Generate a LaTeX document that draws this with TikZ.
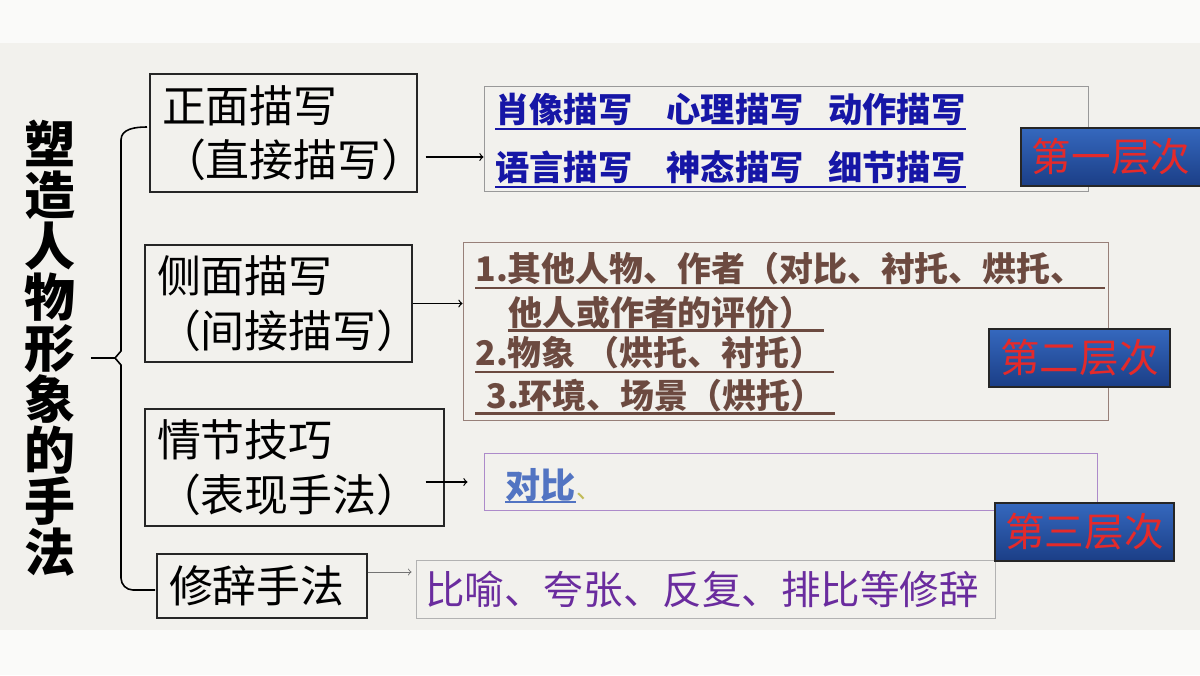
\documentclass[tikz,border=0pt]{standalone}
\usepackage{fontspec}
\newfontfamily\hei{Noto Sans CJK SC}
\definecolor{topband}{HTML}{FAFAF9}
\definecolor{slidebg}{HTML}{F2F1ED}
\definecolor{bluetxt}{HTML}{1616A6}
\definecolor{browntxt}{HTML}{6C4A40}
\definecolor{purpletxt}{HTML}{6A2C9E}
\definecolor{duibi}{HTML}{5274C2}
\definecolor{levelred}{HTML}{E42A2A}
\definecolor{leveltop}{HTML}{3568BE}
\definecolor{levelbot}{HTML}{1B3E86}
\tikzset{
  leftbox/.style={draw=black!85, line width=0.6pt, align=left, inner ysep=0pt, inner xsep=2.4mm,
    font=\hei\fontsize{25}{31}\selectfont},
  descbox/.style={draw, line width=0.5pt, inner sep=0pt},
  desctext/.style={anchor=base west, inner sep=0pt},
  level/.style={draw=black!85, line width=0.8pt, top color=leveltop, bottom color=levelbot,
    text=levelred, inner sep=0pt, minimum height=11.6mm, font=\hei\fontsize{22.5}{22.5}\selectfont},
  arr/.style={->, line width=0.7pt},
  brace/.style={line width=0.9pt},
}
\begin{document}
\begin{tikzpicture}[x=0.2mm,y=-0.2mm]
\useasboundingbox (0,0) rectangle (1200,675);
% slide background
\fill[topband] (0,0) rectangle (1200,43);
\fill[slidebg] (0,43) rectangle (1200,630);
\fill[topband] (0,630) rectangle (1200,675);

% title and brace
\node[align=center, inner sep=0pt, font=\hei\bfseries\fontsize{29}{29}\selectfont] (title) at (50,348)
  {塑\\造\\人\\物\\形\\象\\的\\手\\法};
\draw[brace] (147,127) to[out=180,in=90] (121,140) -- (121,351) -- (115,358) -- (121,365)
  -- (121,578) to[out=-90,in=180] (133,590) -- (155,590);
\draw[brace] (title.east |- 0,358) ++(15,0) -- (115,358);

% left column
\node[leftbox, text width=48.6mm, minimum height=23.6mm] (front) at (283.5,133) {正面描写\\（直接描写）};
\node[leftbox, text width=48.6mm, minimum height=23.4mm] (side) at (278.5,303.5) {侧面描写\\（间接描写）};
\node[leftbox, text width=55mm, minimum height=23.4mm] (plot) at (294.5,467.5) {情节技巧\\（表现手法）};
\node[leftbox, text width=37.2mm, minimum height=12.8mm] (rhet) at (262,586) {修辞手法};

% right column
\node[descbox, draw=black!40, minimum width=120.8mm, minimum height=21mm] (descA) at (786,138.5) {};
\node[descbox, draw=browntxt!70, minimum width=129mm, minimum height=35.6mm] (descB) at (785.5,331) {};
\node[descbox, draw=purpletxt!55, minimum width=122.6mm, minimum height=11.4mm] (descC) at (790.5,481.5) {};
\node[descbox, draw=black!30, minimum width=115.8mm, minimum height=11.6mm] (descD) at (705.5,589) {};

\begin{scope}[font=\hei\bfseries\fontsize{19.5}{19.5}\selectfont, text=bluetxt]
\node[desctext] (a1) at (495,122.5) {肖像描写\hspace{1em}心理描写\hspace{0.72em}动作描写};
\node[desctext] (a2) at (495,180.5) {语言描写\hspace{1em}神态描写\hspace{0.72em}细节描写};
\end{scope}
\foreach \t in {a1,a2}
  \draw[bluetxt, line width=1.2pt] ([yshift=-1.3mm]\t.base west) -- ([yshift=-1.3mm]\t.base east);

\begin{scope}[font=\hei\bfseries\fontsize{19.3}{19.3}\selectfont, text=browntxt]
\node[desctext] (b1) at (475,281) {1.其他人物、作者（对比、衬托、烘托、};
\node[desctext] (b2) at (508,325) {他人或作者的评价）};
\node[desctext] (b3) at (475,365) {2.物象\hspace{0.3em}（烘托、衬托）};
\node[desctext] (b4) at (486,408) {3.环境、场景（烘托）};
\end{scope}
\draw[browntxt, line width=1.2pt] ([yshift=-1.4mm]b1.base west) -- ([yshift=-1.4mm,xshift=4mm]b1.base east);
\draw[browntxt, line width=1.2pt] ([yshift=-1.1mm]b2.base west) -- ([yshift=-1.1mm,xshift=2mm]b2.base east);
\draw[browntxt, line width=1.2pt] ([yshift=-1.4mm]b3.base west) -- ([yshift=-1.4mm,xshift=2mm]b3.base east);
\draw[browntxt, line width=1.2pt] ([yshift=-1.1mm,xshift=-2.2mm]b4.base west) -- ([yshift=-1.1mm,xshift=2mm]b4.base east);

\node[desctext, font=\hei\bfseries\fontsize{20}{20}\selectfont, text=duibi] (c1) at (505,498) {对比};
\node[desctext, font=\hei\fontsize{14}{14}\selectfont, text=olive!55] (c2) at (c1.base east) {、};
\draw[duibi, line width=1.2pt] ([yshift=-0.8mm]c1.base west) -- ([yshift=-0.8mm]c1.base east);

\node[desctext, font=\hei\fontsize{22.5}{22.5}\selectfont, text=purpletxt] (d1) at (425,604)
  {比喻、夸张、反复、排比等修辞};

% arrows
\draw[arr] ([xshift=1.6mm,yshift=-4.8mm]front.east) -- ([yshift=-4.8mm]front.east -| descA.west);
\draw[arr] (side.east) -- (side.east -| descB.west);
\draw[arr, shorten >=3.2mm] ([xshift=-3.8mm,yshift=-2.9mm]plot.east) -- ([yshift=-2.9mm]plot.east -| descC.west);
\draw[->, black!55, line width=0.5pt, shorten >=0.8mm] ([yshift=2.8mm]rhet.east) -- ([yshift=2.8mm]rhet.east -| descD.west);

% level labels
\foreach \n/\x/\y/\w/\t in {levA/1111/157/36/第一层次, levB/1079.5/358/36.2/第二层次, levC/1084.5/532/35.8/第三层次}
  \node[level, minimum width=\w mm] (\n) at (\x,\y) {\t};
\end{tikzpicture}
\end{document}
